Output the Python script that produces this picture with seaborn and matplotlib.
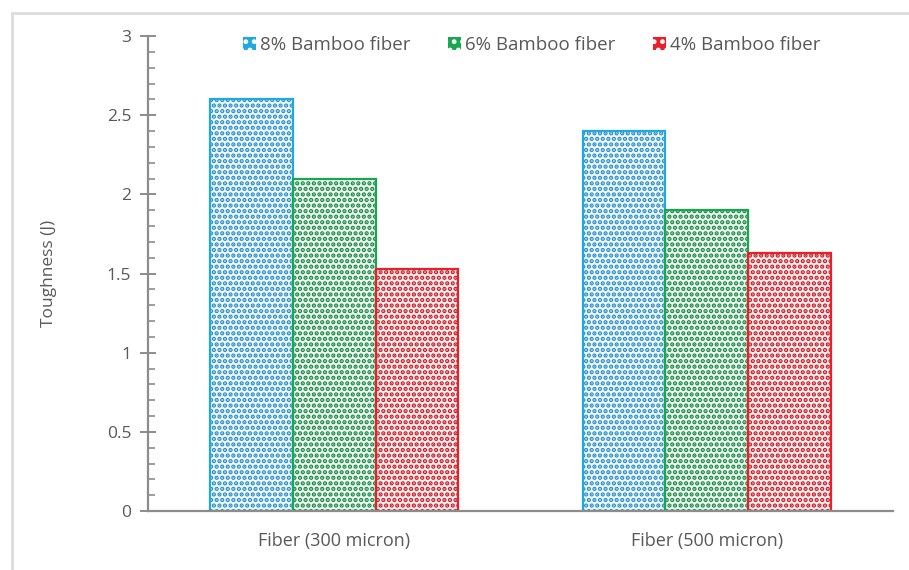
import matplotlib
matplotlib.use("Agg")
import matplotlib.pyplot as plt
from matplotlib.patches import Patch
from matplotlib.lines import Line2D
from matplotlib.ticker import MultipleLocator
import seaborn as sns
import pandas as pd

# Data
fiber_sizes = ["Fiber (300 micron)", "Fiber (500 micron)"]
contents = ["8% Bamboo fiber", "6% Bamboo fiber", "4% Bamboo fiber"]
toughness_8 = [2.60, 2.40]
toughness_6 = [2.10, 1.90]
toughness_4 = [1.53, 1.63]

line_colors = ["#1fa9dc", "#1aa650", "#e8202a"]
dot_colors = ["#2f8fc9", "#1d8a47", "#c8202a"]
face_tints = ["#f0fafe", "#eff9f2", "#fef1f1"]

rows = []
for content, vals in zip(contents, [toughness_8, toughness_6, toughness_4]):
    for size, v in zip(fiber_sizes, vals):
        rows.append({"size": size, "content": content, "toughness": v})
df = pd.DataFrame(rows)

sns.set_theme(style="white")
plt.rcParams["font.family"] = ["Open Sans", "DejaVu Sans"]
plt.rcParams["hatch.linewidth"] = 2.2

fig = plt.figure(figsize=(9.09, 5.70), dpi=100)
ax = fig.add_axes([0.1628, 0.1035, 0.8196, 0.8333])

sns.barplot(data=df, x="size", y="toughness", hue="content",
            hue_order=contents, order=fiber_sizes,
            palette=line_colors, width=2 / 3, gap=0,
            saturation=1, errorbar=None, legend=False, ax=ax)

# Dotted fill on each bar (hatch follows the edge colour), then a crisp outline
for i, container in enumerate(ax.containers):
    for bar in container:
        bar.set_facecolor(face_tints[i])
        bar.set_edgecolor(dot_colors[i])
        bar.set_linewidth(0)
        bar.set_hatch("...")
        x, y = bar.get_xy()
        ax.add_patch(plt.Rectangle((x, y), bar.get_width(), bar.get_height(),
                                   fill=False, edgecolor=line_colors[i],
                                   linewidth=1.6, zorder=bar.get_zorder() + 0.1))

text_color = "#595959"
axis_color = "#8c8c8c"

ax.set_xlim(-0.5, 1.5)
ax.set_ylim(0, 3)
ax.yaxis.set_minor_locator(MultipleLocator(0.1))
ax.set_yticks([0, 0.5, 1, 1.5, 2, 2.5, 3])
ax.set_yticklabels(["0", "0.5", "1", "1.5", "2", "2.5", "3"])

for side in ["top", "right"]:
    ax.spines[side].set_visible(False)
for side in ["left", "bottom"]:
    ax.spines[side].set_color(axis_color)
    ax.spines[side].set_linewidth(1.6)

ax.tick_params(axis="y", which="major", direction="inout", length=12,
               width=1.4, color=axis_color, labelsize=12.5,
               labelcolor=text_color, pad=6, left=True)
ax.tick_params(axis="y", which="minor", direction="in", length=5,
               width=1.2, color=axis_color, left=True)
ax.tick_params(axis="x", which="both", bottom=False, length=0,
               labelsize=13, labelcolor=text_color, pad=15)

ax.set_xlabel("")
ax.set_ylabel("Toughness (J)", fontsize=12.5, color=text_color, labelpad=36)

handles = [Patch(facecolor=line_colors[i], edgecolor="white", hatch="..",
                 linewidth=0.0) for i in range(3)]
leg = fig.legend(handles, contents, loc="center", ncol=3,
                 bbox_to_anchor=(0.585, 0.921), frameon=False,
                 fontsize=13.5, labelcolor=text_color,
                 handlelength=0.7, handleheight=0.7,
                 handletextpad=0.2, columnspacing=2.0)

# light frame lines along the top and left edges
fig.add_artist(Line2D([0.013, 1.0], [0.978, 0.978], color="#dcdcdc", linewidth=2.0))
fig.add_artist(Line2D([0.013, 0.013], [0.0, 0.978], color="#dcdcdc", linewidth=2.0))

fig.savefig("out.png", dpi=100)
